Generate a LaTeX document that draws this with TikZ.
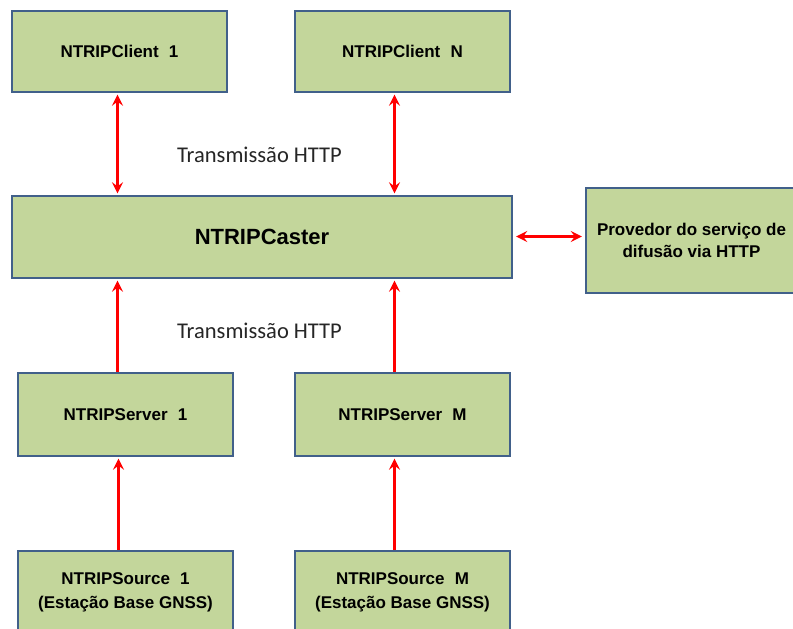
\documentclass[tikz,border=0pt]{standalone}
\usepackage{fontspec}
\setmainfont{Liberation Sans}
\newfontfamily\labelfont{Carlito}
\usetikzlibrary{arrows.meta,calc}
\definecolor{boxfill}{HTML}{C3D69B}
\definecolor{boxline}{HTML}{41608A}
\definecolor{arrowred}{HTML}{FF0000}
\begin{document}
\begin{tikzpicture}[x=1pt,y=-1pt,
  box/.style={draw=boxline, line width=2.4pt, fill=boxfill, rectangle, inner sep=0pt,
    font=\bfseries\fontsize{17}{24}\selectfont, align=center, text=black},
  link/.style={draw=arrowred, line width=2.2pt},
  onehead/.style={-{Stealth[length=11pt,width=11pt,inset=4pt]}},
  twoheads/.style={{Stealth[length=11pt,width=11pt,inset=4pt]}-{Stealth[length=11pt,width=11pt,inset=4pt]}},
  lbl/.style={font=\labelfont\fontsize{22.5}{26}\selectfont, text=black!85, inner sep=0pt}]
\useasboundingbox (0,0) rectangle (793,629);
\clip (0,0) rectangle (793,629);
\fill[white] (0,0) rectangle (793,629);

\node[box, minimum width=215pt, minimum height=81pt] (c1) at (119.5,51.5) {NTRIPClient\hspace{0.6em}1};
\node[box, minimum width=215pt, minimum height=81pt] (cN) at (402.5,51.5) {NTRIPClient\hspace{0.6em}N};
\node[box, minimum width=500pt, minimum height=82pt, font=\bfseries\fontsize{22}{26}\selectfont] (caster) at (262,237) {NTRIPCaster};
\node[box, minimum width=211pt, minimum height=105pt, font=\bfseries\fontsize{17}{22}\selectfont] (prov) at (691.5,240.5) {Provedor do serviço de\\difusão via HTTP};
\node[box, minimum width=215pt, minimum height=83pt] (s1) at (125.5,414.5) {NTRIPServer\hspace{0.6em}1};
\node[box, minimum width=215pt, minimum height=83pt] (sM) at (402.5,414.5) {NTRIPServer\hspace{0.6em}M};
\node[box, minimum width=215pt, minimum height=83pt] (src1) at (125.5,592.5) {NTRIPSource\hspace{0.6em}1\\(Estação Base GNSS)};
\node[box, minimum width=215pt, minimum height=83pt] (srcM) at (402.5,592.5) {NTRIPSource\hspace{0.6em}M\\(Estação Base GNSS)};

\node[lbl] (t1) at (259.5,155) {Transmissão HTTP};
\node[lbl] (t2) at (259.5,331) {Transmissão HTTP};

\draw[link,twoheads] ([xshift=-2pt,yshift=-1.5pt]c1.south) -- ([xshift=-2pt,yshift=1.5pt]c1.south |- caster.north);
\draw[link,twoheads] ([xshift=-8pt,yshift=-1.5pt]cN.south) -- ([xshift=-8pt,yshift=1.5pt]cN.south |- caster.north);
\draw[link,onehead] ([xshift=-8pt]s1.north) -- ([xshift=-8pt,yshift=-1.5pt]s1.north |- caster.south);
\draw[link,onehead] ([xshift=-8pt]sM.north) -- ([xshift=-8pt,yshift=-1.5pt]sM.north |- caster.south);
\draw[link,onehead] ([xshift=-7pt]src1.north) -- ([xshift=-7pt,yshift=-1.5pt]src1.north |- s1.south);
\draw[link,onehead] ([xshift=-8pt]srcM.north) -- ([xshift=-8pt,yshift=-1.5pt]srcM.north |- sM.south);
\draw[link,twoheads] ([xshift=3pt,yshift=0.5pt]caster.east) -- ([xshift=-3pt,yshift=0.5pt]caster.east -| prov.west);
\end{tikzpicture}
\end{document}
